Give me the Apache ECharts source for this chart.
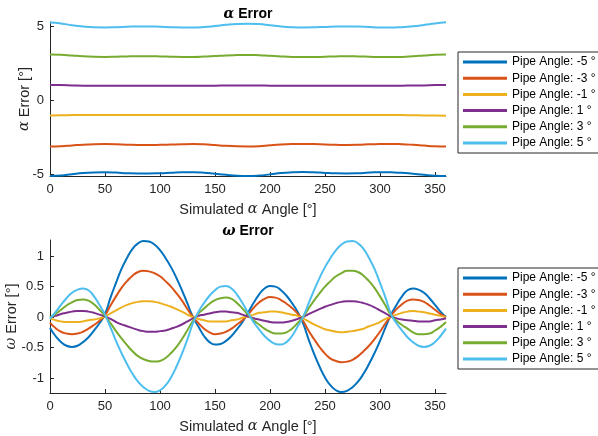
<!DOCTYPE html>
<html>
<head>
<meta charset="UTF-8">
<title>Alpha / Omega Error</title>
<script src="https://cdn.jsdelivr.net/npm/echarts@6/dist/echarts.min.js"></script>
<style>
  html, body { margin: 0; padding: 0; background: #fff; }
  #chart { width: 598px; height: 436px; }
</style>
</head>
<body>
<div id="chart"></div>
<script>
// simulated alpha angle (deg)
const alphaAngles = [0, 10, 20, 30, 40, 50, 60, 70, 80, 90, 100, 110, 120, 130, 140, 150, 160, 170, 180,
  190, 200, 210, 220, 230, 240, 250, 260, 270, 280, 290, 300, 310, 320, 330, 340, 350, 360];
const omegaAngles = [0, 5, 10, 15, 20, 25, 30, 35, 40, 45, 50, 55, 60,
  65, 70, 75, 80, 85, 90, 95, 100, 105, 110, 115, 120, 125,
  130, 135, 140, 145, 150, 155, 160, 165, 170, 175, 180, 185, 190,
  195, 200, 205, 210, 215, 220, 225, 230, 235, 240, 245, 250, 255,
  260, 265, 270, 275, 280, 285, 290, 295, 300, 305, 310, 315, 320,
  325, 330, 335, 340, 345, 350, 355, 360];

const seriesNames = ['Pipe Angle: -5 °', 'Pipe Angle: -3 °', 'Pipe Angle: -1 °',
  'Pipe Angle: 1 °', 'Pipe Angle: 3 °', 'Pipe Angle: 5 °'];
const colors = ['#0072BD', '#D95319', '#EDB120', '#7E2F8E', '#77AC30', '#4DBEEE'];

const alphaTicks = [-5, 0, 5];
const omegaTicks = [-1, -0.5, 0, 0.5, 1];

// alpha error [deg]
const alphaM5 = [-5.10, -5.07, -4.98, -4.90, -4.86, -4.85, -4.87, -4.91, -4.93, -4.93, -4.91, -4.88, -4.85,
  -4.85, -4.88, -4.95, -5.02, -5.08, -5.10, -5.07, -4.99, -4.90, -4.85, -4.83, -4.85, -4.89, -4.92,
  -4.93, -4.91, -4.87, -4.84, -4.85, -4.88, -4.95, -5.02, -5.08, -5.10];
const alphaM3 = [-3.10, -3.08, -3.03, -2.98, -2.95, -2.94, -2.95, -2.98, -3.00, -3.00, -2.99, -2.97, -2.95,
  -2.94, -2.96, -3.01, -3.06, -3.09, -3.10, -3.08, -3.02, -2.97, -2.94, -2.93, -2.94, -2.97, -2.99,
  -3.00, -2.99, -2.96, -2.94, -2.93, -2.95, -2.99, -3.04, -3.09, -3.11];
const alphaM1 = [-1.00, -0.99, -0.98, -0.97, -0.97, -0.97, -0.97, -0.97, -0.97, -0.97, -0.97, -0.97, -0.97,
  -0.97, -0.97, -0.97, -0.98, -0.98, -0.98, -0.98, -0.98, -0.97, -0.97, -0.97, -0.97, -0.97, -0.97,
  -0.97, -0.97, -0.97, -0.97, -0.97, -0.98, -0.99, -1.00, -1.01, -1.02];
const alphaP1 = [1.06, 1.05, 1.03, 1.01, 1.00, 1.00, 1.00, 1.00, 1.00, 1.00, 1.00, 1.00, 1.00,
  1.00, 1.00, 1.01, 1.02, 1.03, 1.03, 1.02, 1.01, 1.00, 1.00, 1.00, 1.00, 1.00, 1.00,
  1.00, 1.00, 1.00, 1.00, 1.00, 1.01, 1.02, 1.03, 1.05, 1.06];
const alphaP3 = [3.12, 3.10, 3.05, 3.00, 2.97, 2.96, 2.97, 2.99, 3.00, 3.00, 2.99, 2.97, 2.96,
  2.96, 2.98, 3.02, 3.06, 3.08, 3.09, 3.07, 3.03, 2.99, 2.96, 2.95, 2.95, 2.97, 2.99,
  3.00, 2.99, 2.97, 2.95, 2.95, 2.96, 3.00, 3.05, 3.10, 3.12];
const alphaP5 = [5.28, 5.22, 5.10, 5.01, 4.96, 4.95, 4.97, 5.00, 5.02, 5.02, 5.00, 4.97, 4.95,
  4.95, 4.98, 5.05, 5.13, 5.19, 5.21, 5.18, 5.10, 5.02, 4.97, 4.95, 4.96, 4.99, 5.01,
  5.02, 5.01, 4.98, 4.95, 4.94, 4.97, 5.03, 5.12, 5.22, 5.30];

// omega error [deg], 5 deg steps
const omegaM5 = [-0.18, -0.31, -0.41, -0.47, -0.49, -0.47, -0.41, -0.33, -0.22, -0.10, 0.05, 0.32, 0.56,
  0.79, 0.97, 1.12, 1.21, 1.25, 1.24, 1.19, 1.10, 0.97, 0.82, 0.64, 0.44, 0.22,
  0.00, -0.16, -0.31, -0.41, -0.45, -0.44, -0.39, -0.31, -0.20, -0.08, 0.07, 0.23, 0.37,
  0.47, 0.51, 0.50, 0.44, 0.35, 0.23, 0.09, -0.10, -0.36, -0.60, -0.81, -0.99, -1.12,
  -1.20, -1.23, -1.21, -1.15, -1.06, -0.93, -0.77, -0.59, -0.39, -0.17, 0.04, 0.20, 0.34,
  0.44, 0.47, 0.45, 0.40, 0.31, 0.20, 0.09, 0.00];
const omegaM3 = [-0.09, -0.18, -0.24, -0.27, -0.28, -0.27, -0.24, -0.19, -0.13, -0.06, 0.03, 0.19, 0.34,
  0.48, 0.59, 0.68, 0.74, 0.76, 0.75, 0.72, 0.67, 0.59, 0.50, 0.39, 0.27, 0.13,
  0.00, -0.10, -0.19, -0.25, -0.28, -0.27, -0.24, -0.19, -0.12, -0.05, 0.04, 0.15, 0.24,
  0.30, 0.33, 0.32, 0.28, 0.22, 0.15, 0.06, -0.06, -0.22, -0.36, -0.49, -0.60, -0.68,
  -0.72, -0.74, -0.73, -0.70, -0.64, -0.56, -0.47, -0.36, -0.24, -0.10, 0.02, 0.13, 0.21,
  0.27, 0.29, 0.28, 0.25, 0.19, 0.12, 0.05, 0.00];
const omegaM1 = [-0.02, -0.05, -0.07, -0.08, -0.08, -0.08, -0.07, -0.05, -0.04, -0.02, 0.01, 0.06, 0.11,
  0.16, 0.20, 0.23, 0.25, 0.26, 0.26, 0.25, 0.23, 0.20, 0.17, 0.13, 0.09, 0.04,
  0.00, -0.03, -0.05, -0.07, -0.07, -0.07, -0.07, -0.05, -0.04, -0.01, 0.01, 0.04, 0.07,
  0.08, 0.09, 0.09, 0.08, 0.06, 0.04, 0.02, -0.02, -0.07, -0.12, -0.16, -0.20, -0.22,
  -0.24, -0.25, -0.24, -0.23, -0.21, -0.19, -0.15, -0.12, -0.08, -0.03, 0.01, 0.04, 0.07,
  0.09, 0.10, 0.09, 0.08, 0.06, 0.04, 0.02, 0.00];
const omegaP1 = [0.00, 0.02, 0.05, 0.07, 0.09, 0.10, 0.10, 0.09, 0.07, 0.04, 0.01, -0.03, -0.08,
  -0.12, -0.15, -0.18, -0.21, -0.23, -0.24, -0.24, -0.23, -0.22, -0.19, -0.16, -0.12, -0.07,
  -0.02, 0.02, 0.04, 0.06, 0.08, 0.09, 0.09, 0.08, 0.07, 0.04, 0.01, -0.02, -0.04,
  -0.06, -0.08, -0.09, -0.09, -0.08, -0.06, -0.03, 0.00, 0.05, 0.09, 0.13, 0.17, 0.20,
  0.23, 0.25, 0.26, 0.26, 0.25, 0.23, 0.20, 0.16, 0.11, 0.06, 0.01, -0.02, -0.04,
  -0.05, -0.06, -0.07, -0.07, -0.07, -0.05, -0.04, -0.02];
const omegaP3 = [-0.01, 0.05, 0.12, 0.19, 0.24, 0.28, 0.29, 0.27, 0.21, 0.12, 0.02, -0.10, -0.23,
  -0.35, -0.46, -0.56, -0.64, -0.69, -0.72, -0.73, -0.72, -0.67, -0.59, -0.49, -0.36, -0.21,
  -0.06, 0.06, 0.14, 0.22, 0.28, 0.31, 0.32, 0.30, 0.23, 0.14, 0.04, -0.05, -0.12,
  -0.19, -0.24, -0.27, -0.27, -0.25, -0.19, -0.10, 0.00, 0.14, 0.27, 0.39, 0.50, 0.59,
  0.67, 0.72, 0.76, 0.76, 0.74, 0.68, 0.59, 0.48, 0.34, 0.19, 0.03, -0.06, -0.13,
  -0.19, -0.25, -0.28, -0.28, -0.27, -0.22, -0.16, -0.08];
const omegaP5 = [-0.03, 0.08, 0.20, 0.31, 0.40, 0.45, 0.47, 0.44, 0.34, 0.20, 0.04, -0.17, -0.39,
  -0.59, -0.77, -0.93, -1.06, -1.15, -1.21, -1.23, -1.20, -1.12, -0.99, -0.81, -0.60, -0.36,
  -0.10, 0.09, 0.23, 0.35, 0.44, 0.50, 0.51, 0.47, 0.37, 0.23, 0.07, -0.08, -0.20,
  -0.31, -0.39, -0.44, -0.45, -0.41, -0.31, -0.16, 0.00, 0.22, 0.44, 0.64, 0.82, 0.97,
  1.10, 1.19, 1.24, 1.25, 1.21, 1.12, 0.97, 0.79, 0.56, 0.32, 0.05, -0.10, -0.22,
  -0.33, -0.41, -0.47, -0.49, -0.47, -0.41, -0.31, -0.19];

const alphaData = [alphaM5, alphaM3, alphaM1, alphaP1, alphaP3, alphaP5];
const omegaData = [omegaM5, omegaM3, omegaM1, omegaP1, omegaP3, omegaP5];

const FONT = 'Liberation Sans, Arial, sans-serif';
const INK = '#262626';
const greek = { g: { fontFamily: 'DejaVu Serif', fontStyle: 'italic', fontSize: 14.5, color: INK } };

function makeX(idx) {
  return {
    type: 'value', gridIndex: idx, min: 0, max: 360, interval: 50,
    name: 'Simulated {g|α} Angle [°]', nameLocation: 'middle', nameGap: 26,
    nameTextStyle: { fontFamily: FONT, fontSize: 14.5, color: INK, rich: greek },
    axisLine: { show: true, onZero: false, lineStyle: { color: INK, width: 1 } },
    axisTick: { show: true, inside: true, length: 4, lineStyle: { color: INK } },
    axisLabel: { fontFamily: FONT, fontSize: 13, color: INK, margin: 7, showMaxLabel: false },
    splitLine: { show: false }
  };
}

function makeY(idx, min, max, ticks, name, gap) {
  return {
    type: 'value', gridIndex: idx, min: min, max: max,
    name: name, nameLocation: 'middle', nameGap: gap, nameMoveOverlap: false,
    nameTextStyle: { fontFamily: FONT, fontSize: 14.5, color: INK, rich: greek },
    axisLine: { show: true, onZero: false, lineStyle: { color: INK, width: 1 } },
    axisTick: { show: true, inside: true, length: 4, customValues: ticks, lineStyle: { color: INK } },
    axisLabel: { fontFamily: FONT, fontSize: 13, color: INK, margin: 6, customValues: ticks },
    splitLine: { show: false }
  };
}

const series = [];
seriesNames.forEach((name, i) => {
  series.push({
    name: name, type: 'line', xAxisIndex: 0, yAxisIndex: 0, smooth: true,
    showSymbol: false, lineStyle: { width: 2, color: colors[i] }, itemStyle: { color: colors[i] },
    data: alphaAngles.map((a, k) => [a, alphaData[i][k]])
  });
});
seriesNames.forEach((name, i) => {
  series.push({
    name: name, type: 'line', xAxisIndex: 1, yAxisIndex: 1, smooth: true,
    showSymbol: false, lineStyle: { width: 2, color: colors[i] }, itemStyle: { color: colors[i] },
    data: omegaAngles.map((a, k) => [a, omegaData[i][k]])
  });
});

function makeLegend(top) {
  return {
    orient: 'vertical', left: 458, top: top, data: seriesNames,
    icon: 'rect', itemWidth: 44, itemHeight: 3, itemGap: 2.2,
    padding: [3, 3, 3, 5], borderColor: INK, borderWidth: 1, borderRadius: 0,
    backgroundColor: '#fff', selectedMode: false,
    textStyle: { fontFamily: FONT, fontSize: 12, color: '#000', lineHeight: 14 }
  };
}

const chart = echarts.init(document.getElementById('chart'));
chart.setOption({
  animation: false,
  grid: [
    { left: 50, top: 22, width: 396, height: 154, outerBoundsMode: 'none' },
    { left: 50, top: 240, width: 396, height: 153, outerBoundsMode: 'none' }
  ],
  xAxis: [makeX(0), makeX(1)],
  yAxis: [
    makeY(0, -5.1, 5.32, alphaTicks, '{g|α} Error [°]', 18),
    makeY(1, -1.245, 1.265, omegaTicks, '{g|ω} Error [°]', 31)
  ],
  legend: [makeLegend(52), makeLegend(268)],
  graphic: [
    { type: 'text', x: 248, y: 14, style: { text: '{g|α} Error', align: 'center', verticalAlign: 'middle',
      font: 'bold 14px ' + FONT, fill: '#000', rich: { g: { fontFamily: 'DejaVu Serif', fontStyle: 'italic', fontWeight: 'bold', fontSize: 14, fill: '#000' } } } },
    { type: 'text', x: 248, y: 231, style: { text: '{g|ω} Error', align: 'center', verticalAlign: 'middle',
      font: 'bold 14px ' + FONT, fill: '#000', rich: { g: { fontFamily: 'DejaVu Serif', fontStyle: 'italic', fontWeight: 'bold', fontSize: 14, fill: '#000' } } } }
  ],
  series: series
});
window.addEventListener('resize', () => chart.resize());
</script>
</body>
</html>
